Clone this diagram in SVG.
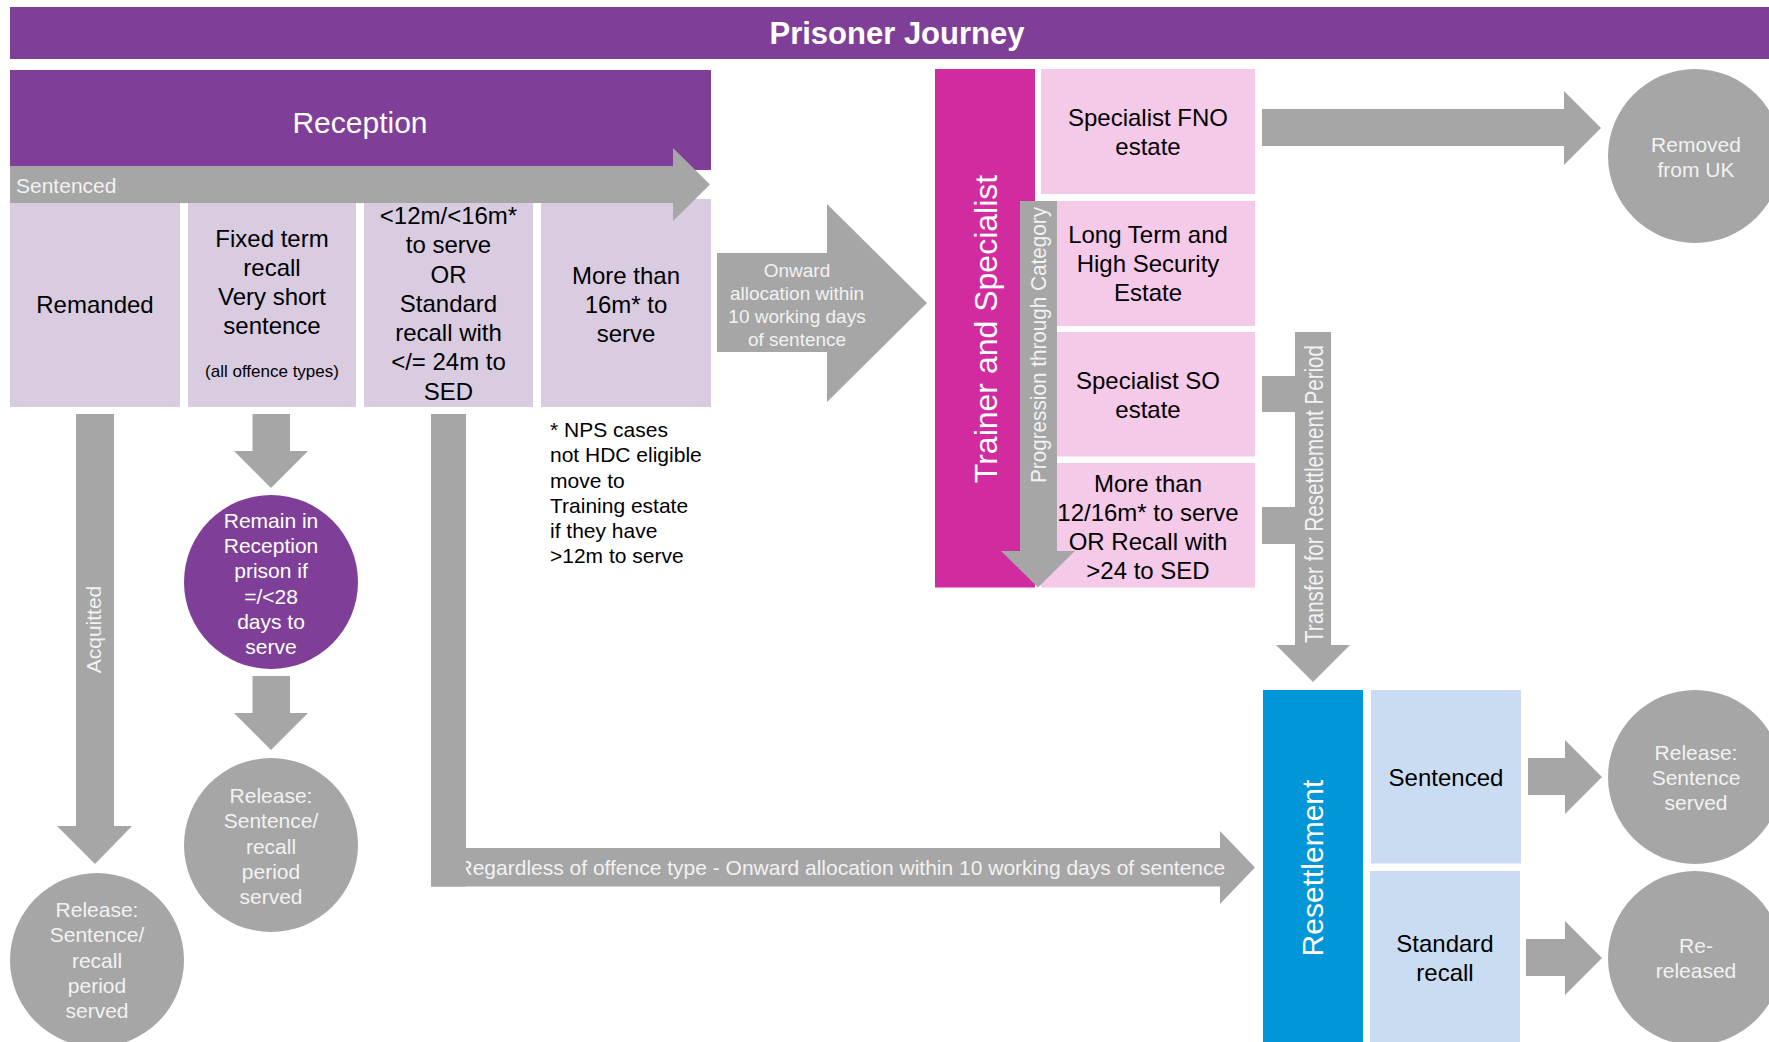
<svg xmlns="http://www.w3.org/2000/svg" width="1769" height="1042" viewBox="0 0 1769 1042">
<style>
text{font-family:"Liberation Sans",Arial,Helvetica,sans-serif}
.ar{fill:#A6A6A6}
.purple{fill:#7F3F98}
.lav{fill:#D9CCE1}
.pink{fill:#F5C9E8}
.lblue{fill:#C9DCF1}
.circ{fill:#A6A6A6}
.dk{fill:#000;text-anchor:middle;font-size:24px}
.dk.small{font-size:17px}
.wh{fill:#FFFFFF;text-anchor:middle}
.lt{fill:#F2F2F2;text-anchor:middle}
</style>
<rect width="1769" height="1042" fill="#FFFFFF"/>

<g id="title">
<rect class="purple" x="10" y="7" width="1759" height="52"/>
<text x="897" y="44" class="wh" font-size="31" font-weight="bold">Prisoner Journey</text>
</g>

<g id="reception">
<rect class="purple" x="10" y="70" width="701" height="100"/>
<text x="360" y="133" class="wh" font-size="30">Reception</text>
</g>

<g id="remanded">
<rect class="lav" x="10" y="203" width="170" height="204"/>
<text x="95" y="313" class="dk">Remanded</text>
</g>

<g id="fixed-term">
<rect class="lav" x="188" y="203" width="168" height="204"/>
<text class="dk"><tspan x="272" y="247">Fixed term</tspan><tspan x="272" y="276">recall</tspan><tspan x="272" y="305">Very short</tspan><tspan x="272" y="334">sentence</tspan></text>
<text x="272" y="377" class="dk small">(all offence types)</text>
</g>

<g id="short-sentence">
<rect class="lav" x="364" y="203" width="169" height="204"/>
<text class="dk"><tspan x="448.5" y="224">&lt;12m/&lt;16m*</tspan><tspan x="448.5" y="253">to serve</tspan><tspan x="448.5" y="282.5">OR</tspan><tspan x="448.5" y="312">Standard</tspan><tspan x="448.5" y="341">recall with</tspan><tspan x="448.5" y="370">&lt;/= 24m to</tspan><tspan x="448.5" y="399.5">SED</tspan></text>
</g>

<g id="long-sentence">
<rect class="lav" x="541" y="199" width="170" height="208"/>
<text class="dk"><tspan x="626" y="284">More than</tspan><tspan x="626" y="313">16m* to</tspan><tspan x="626" y="342">serve</tspan></text>
</g>

<g id="nps-note">
<text font-size="21" fill="#000"><tspan x="550" y="437">* NPS cases</tspan><tspan x="550" y="462">not HDC eligible</tspan><tspan x="550" y="488">move to</tspan><tspan x="550" y="513">Training estate</tspan><tspan x="550" y="538">if they have</tspan><tspan x="550" y="563">&gt;12m to serve</tspan></text>
</g>

<g id="remain-reception">
<circle class="purple" cx="271" cy="582" r="87"/>
<text class="wh" font-size="21"><tspan x="271" y="528">Remain in</tspan><tspan x="271" y="553">Reception</tspan><tspan x="271" y="578">prison if</tspan><tspan x="271" y="603.5">=/&lt;28</tspan><tspan x="271" y="629">days to</tspan><tspan x="271" y="654">serve</tspan></text>
</g>

<g id="release-recall">
<circle class="circ" cx="271" cy="845" r="87"/>
<text class="lt" font-size="21"><tspan x="271" y="803">Release:</tspan><tspan x="271" y="828">Sentence/</tspan><tspan x="271" y="854">recall</tspan><tspan x="271" y="879">period</tspan><tspan x="271" y="904">served</tspan></text>
</g>

<g id="release-acquitted">
<circle class="circ" cx="97" cy="960" r="87"/>
<text class="lt" font-size="21"><tspan x="97" y="917">Release:</tspan><tspan x="97" y="942">Sentence/</tspan><tspan x="97" y="968">recall</tspan><tspan x="97" y="993">period</tspan><tspan x="97" y="1018">served</tspan></text>
</g>

<g id="trainer-specialist">
<rect fill="#D22B9F" x="935" y="69" width="100" height="518.5"/>
<text transform="translate(997,329) rotate(-90)" class="wh" font-size="32">Trainer and Specialist</text>
</g>

<g id="specialist-fno">
<rect class="pink" x="1041" y="69" width="214" height="125"/>
<text class="dk"><tspan x="1148" y="126">Specialist FNO</tspan><tspan x="1148" y="155">estate</tspan></text>
</g>

<g id="long-term">
<rect class="pink" x="1041" y="201" width="214" height="125"/>
<text class="dk"><tspan x="1148" y="243">Long Term and</tspan><tspan x="1148" y="272">High Security</tspan><tspan x="1148" y="301">Estate</tspan></text>
</g>

<g id="specialist-so">
<rect class="pink" x="1041" y="332" width="214" height="124.5"/>
<text class="dk"><tspan x="1148" y="389">Specialist SO</tspan><tspan x="1148" y="418">estate</tspan></text>
</g>

<g id="more-than">
<rect class="pink" x="1041" y="463" width="214" height="124.5"/>
<text class="dk"><tspan x="1148" y="492">More than</tspan><tspan x="1148" y="521">12/16m* to serve</tspan><tspan x="1148" y="550">OR Recall with</tspan><tspan x="1148" y="579">&gt;24 to SED</tspan></text>
</g>

<g id="removed">
<circle class="circ" cx="1695" cy="156" r="87"/>
<text class="lt" font-size="21"><tspan x="1696" y="152">Removed</tspan><tspan x="1696" y="177">from UK</tspan></text>
</g>

<g id="resettlement">
<rect fill="#0096D7" x="1263" y="690" width="100" height="352"/>
<text transform="translate(1323,868) rotate(-90)" class="wh" font-size="30">Resettlement</text>
</g>

<g id="res-sentenced">
<rect class="lblue" x="1371" y="690" width="150" height="173.5"/>
<text x="1446" y="786" class="dk">Sentenced</text>
</g>

<g id="res-recall">
<rect class="lblue" x="1370" y="871" width="150" height="171"/>
<text class="dk"><tspan x="1445" y="952">Standard</tspan><tspan x="1445" y="981">recall</tspan></text>
</g>

<g id="release-served">
<circle class="circ" cx="1695" cy="777" r="87"/>
<text class="lt" font-size="21"><tspan x="1696" y="760">Release:</tspan><tspan x="1696" y="785">Sentence</tspan><tspan x="1696" y="810">served</tspan></text>
</g>

<g id="re-released">
<circle class="circ" cx="1695" cy="958" r="87"/>
<text class="lt" font-size="21"><tspan x="1696" y="953">Re-</tspan><tspan x="1696" y="978">released</tspan></text>
</g>

<g id="connectors">
<!-- Sentenced -->
<polygon class="ar" points="10,166 673,166 673,148 710,184.5 673,221 673,203 10,203"/>
<text x="16" y="193" font-size="21" fill="#F2F2F2">Sentenced</text>
<!-- Onward allocation -->
<polygon class="ar" points="717,253 827,253 827,204 927,303 827,402 827,352 717,352"/>
<text class="lt" font-size="19"><tspan x="797" y="277">Onward</tspan><tspan x="797" y="300">allocation within</tspan><tspan x="797" y="323">10 working days</tspan><tspan x="797" y="346">of sentence</tspan></text>
<!-- Acquitted -->
<polygon class="ar" points="76,414 114,414 114,826 132,826 95,864 57,826 76,826"/>
<text transform="translate(101,629.5) rotate(-90)" class="lt" font-size="21">Acquitted</text>
<!-- fixed-term down arrows -->
<polygon class="ar" points="252.5,414 290,414 290,451 308,451 271,488 234,451 252.5,451"/>
<polygon class="ar" points="252.5,676 290,676 290,713 308,713 271,750 234,713 252.5,713"/>
<!-- Regardless -->
<polygon class="ar" points="431,848 1220,848 1220,831 1255,867.5 1220,904 1220,886.5 431,886.5"/>
<text x="457.5" y="875" font-size="21" fill="#F2F2F2">Regardless of offence type - Onward allocation within 10 working days of sentence</text>
<rect class="ar" x="431" y="414" width="35" height="472.5"/>
<!-- FNO to removed -->
<polygon class="ar" points="1262,109 1564,109 1564,91 1601,128 1564,165 1564,146 1262,146"/>
<!-- Progression -->
<polygon class="ar" points="1020,201 1057,201 1057,551 1075,551 1038,587.5 1001,551 1020,551"/>
<text transform="translate(1046,345) rotate(-90)" class="lt" font-size="22" textLength="276" lengthAdjust="spacingAndGlyphs">Progression through Category</text>
<!-- Transfer -->
<rect class="ar" x="1262" y="376" width="34" height="36"/>
<rect class="ar" x="1262" y="507" width="34" height="37"/>
<polygon class="ar" points="1295,332 1331,332 1331,645 1350,645 1313,682 1276,645 1295,645"/>
<text transform="translate(1323,494) rotate(-90)" class="lt" font-size="25" textLength="298" lengthAdjust="spacingAndGlyphs">Transfer for Resettlement Period</text>
<!-- resettlement outputs -->
<polygon class="ar" points="1528,758 1565,758 1565,740 1602,777 1565,814 1565,795 1528,795"/>
<polygon class="ar" points="1526,939 1565,939 1565,921 1602,958 1565,995 1565,976 1526,976"/>
</g>
</svg>
